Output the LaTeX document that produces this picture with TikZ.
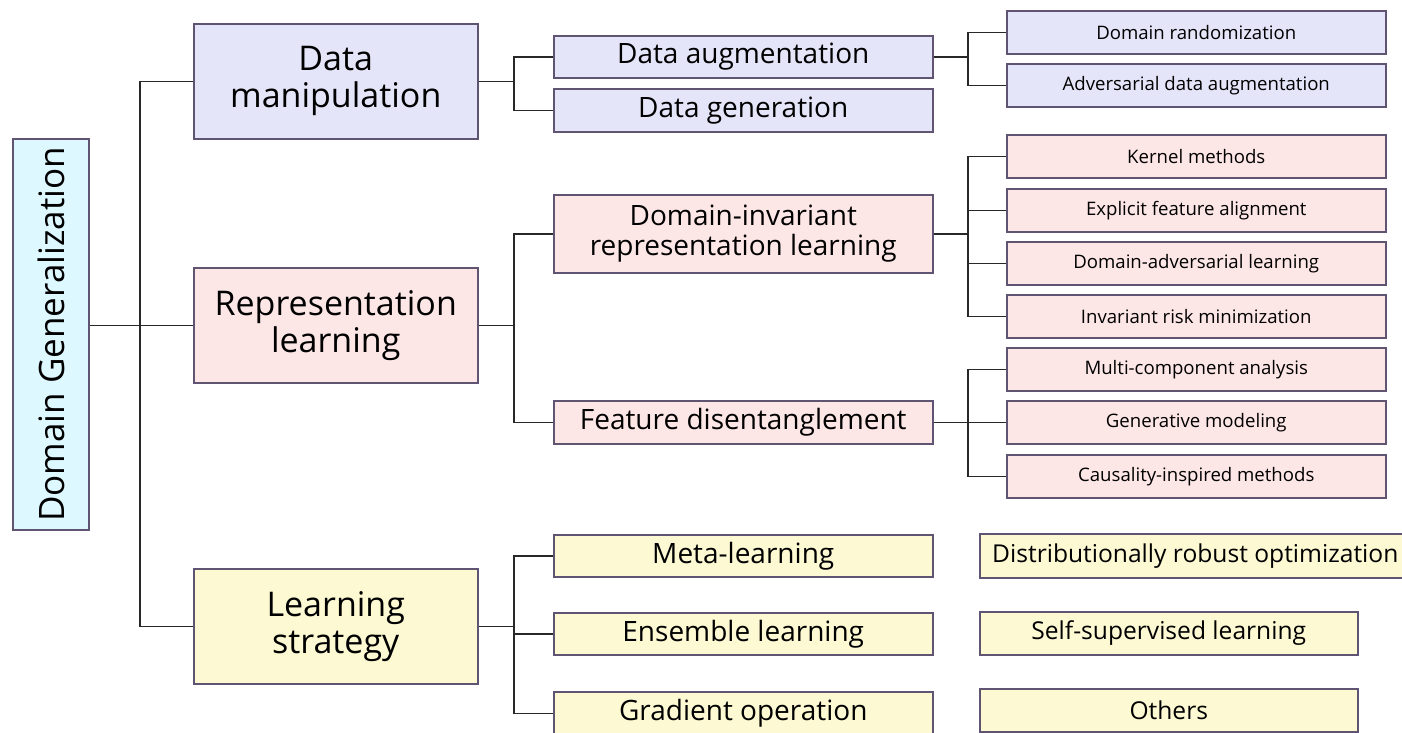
\documentclass[tikz,border=0pt]{standalone}
\usepackage{fontspec}
\setmainfont{Open Sans}
\definecolor{lav}{RGB}{229,229,250}
\definecolor{pnk}{RGB}{253,230,230}
\definecolor{ylw}{RGB}{253,249,210}
\definecolor{cyn}{RGB}{222,248,255}
\definecolor{bord}{RGB}{95,85,115}
\definecolor{wire}{RGB}{40,40,40}
\tikzset{
  box/.style={draw=bord, line width=1.5pt, fill=#1, inner sep=0pt, anchor=north west, align=center, text=black},
  lone/.style={font=\fontsize{34}{37}\selectfont},
  ltwo/.style={font=\fontsize{28}{30}\selectfont},
  lthree/.style={font=\fontsize{18.6}{22}\selectfont},
  lside/.style={font=\fontsize{24.6}{28}\selectfont},
  wirel/.style={draw=wire, line width=1.5pt},
}
\begin{document}
\begin{tikzpicture}[x=1pt,y=-1pt]
\useasboundingbox (0,0) rectangle (1402,732);
% root
\node[box=cyn, anchor=center, rotate=90, minimum width=391pt, minimum height=76pt, font=\fontsize{35}{40}\selectfont] (root) at (51,334.5) {Domain Generalization};
% level 1
\node[box=lav, lone, minimum width=284pt, minimum height=115pt] (dm) at (193,23) {Data\\manipulation};
\node[box=pnk, lone, minimum width=284pt, minimum height=115pt] (rl) at (193,267) {Representation\\learning};
\node[box=ylw, lone, minimum width=284pt, minimum height=115pt] (ls) at (193,568) {Learning\\strategy};
% level 2
\node[box=lav, ltwo, minimum width=379pt, minimum height=42pt] (da) at (553,35) {Data augmentation};
\node[box=lav, ltwo, minimum width=379pt, minimum height=43pt] (dg) at (553,88) {Data generation};
\node[box=pnk, ltwo, minimum width=379pt, minimum height=78pt] (dirl) at (553,194) {Domain-invariant\\representation learning};
\node[box=pnk, ltwo, minimum width=379pt, minimum height=43pt] (fd) at (553,400) {Feature disentanglement};
\node[box=ylw, ltwo, minimum width=379pt, minimum height=42pt] (ml) at (553,534) {Meta-learning};
\node[box=ylw, ltwo, minimum width=379pt, minimum height=42pt] (el) at (553,612) {Ensemble learning};
\node[box=ylw, ltwo, minimum width=379pt, minimum height=43pt] (go) at (553,691) {Gradient operation};
% level 3
\node[box=lav, lthree, minimum width=379pt, minimum height=43pt] (dr) at (1006,10) {Domain randomization};
\node[box=lav, lthree, minimum width=379pt, minimum height=43pt] (ada) at (1006,63) {Adversarial data augmentation};
\node[box=pnk, lthree, minimum width=379pt, minimum height=43pt] (km) at (1006,134) {Kernel methods};
\node[box=pnk, lthree, minimum width=379pt, minimum height=43pt] (efa) at (1006,188) {Explicit feature alignment};
\node[box=pnk, lthree, minimum width=379pt, minimum height=43pt] (dal) at (1006,241) {Domain-adversarial learning};
\node[box=pnk, lthree, minimum width=379pt, minimum height=43pt] (irm) at (1006,294) {Invariant risk minimization};
\node[box=pnk, lthree, minimum width=379pt, minimum height=43pt] (mca) at (1006,347) {Multi-component analysis};
\node[box=pnk, lthree, minimum width=379pt, minimum height=43pt] (gm) at (1006,400) {Generative modeling};
\node[box=pnk, lthree, minimum width=379pt, minimum height=43pt] (cim) at (1006,454) {Causality-inspired methods};
% side yellow
\node[box=ylw, lside, minimum width=431pt, minimum height=44pt] (dro) at (979,533) {Distributionally robust optimization};
\node[box=ylw, lside, minimum width=378pt, minimum height=43pt] (ssl) at (979,611) {Self-supervised learning};
\node[box=ylw, lside, minimum width=378pt, minimum height=43pt] (oth) at (979,688) {Others};
% bus coordinates
\coordinate (b0) at (140,0);
\coordinate (b1) at (514,0);
\coordinate (b2) at (968,0);
% root connectors
\draw[wirel] (root.south |- rl.west) -- (rl.west);
\draw[wirel] (dm.west) -| (b0 |- dm.west) -- (b0 |- ls.west) -- (ls.west);
% data manipulation
\draw[wirel] (dm.east) -- (b1 |- dm.east);
\draw[wirel] (da.west) -| (b1 |- da.west) -- (b1 |- dg.west) -- (dg.west);
\draw[wirel] (da.east) -- (b2 |- da.east);
\draw[wirel] (dr.west) -| (b2 |- dr.west) -- (b2 |- ada.west) -- (ada.west);
% representation learning
\draw[wirel] (rl.east) -- (b1 |- rl.east);
\draw[wirel] (dirl.west) -| (b1 |- dirl.west) -- (b1 |- fd.west) -- (fd.west);
\draw[wirel] (dirl.east) -- (b2 |- dirl.east);
\draw[wirel] (km.west) -| (b2 |- km.west) -- (b2 |- irm.west) -- (irm.west);
\draw[wirel] (efa.west) -- (b2 |- efa.west);
\draw[wirel] (dal.west) -- (b2 |- dal.west);
\draw[wirel] (fd.east) -- (b2 |- fd.east);
\draw[wirel] (mca.west) -| (b2 |- mca.west) -- (b2 |- cim.west) -- (cim.west);
\draw[wirel] (gm.west) -- (b2 |- gm.west);
% learning strategy
\draw[wirel] (ls.east) -- (b1 |- ls.east);
\draw[wirel] (ml.west) -| (b1 |- ml.west) -- (b1 |- go.west) -- (go.west);
\draw[wirel] (el.west) -- (b1 |- el.west);
\end{tikzpicture}
\end{document}
